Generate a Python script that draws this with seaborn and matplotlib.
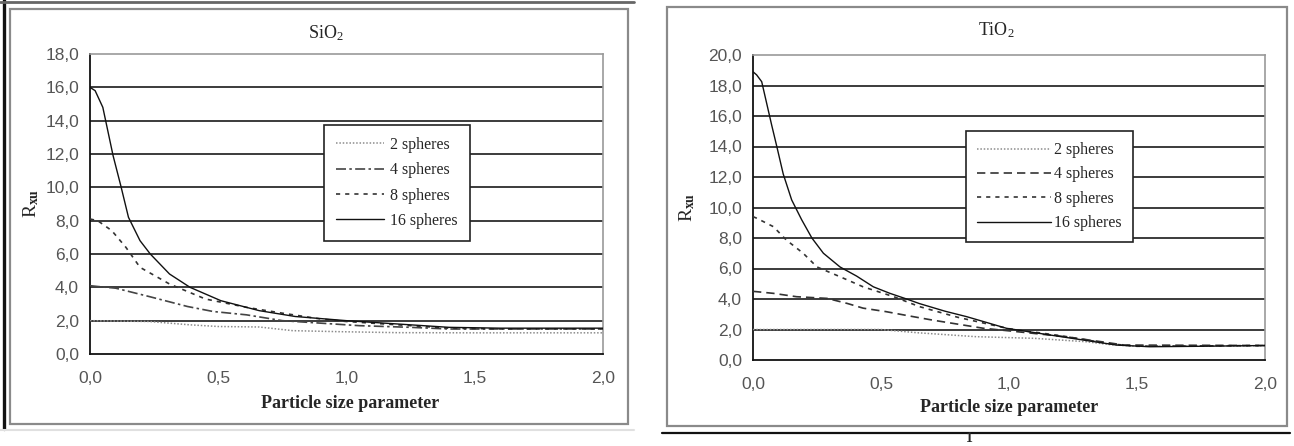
import matplotlib
matplotlib.use("Agg")
import matplotlib.pyplot as plt
import seaborn as sns
import pandas as pd
from matplotlib.ticker import FuncFormatter, MultipleLocator
from matplotlib.lines import Line2D
from matplotlib.patches import Rectangle

# ---------------- data ----------------
series_labels = ["2 spheres", "4 spheres", "8 spheres", "16 spheres"]

# SiO2
sio2_2_x = [0.0, 0.23, 0.39, 0.5, 0.66, 0.79, 0.97, 1.2, 1.5, 2.0]
sio2_2_y = [2.0, 1.95, 1.75, 1.65, 1.62, 1.4, 1.34, 1.28, 1.27, 1.27]
sio2_4_x = [0.0, 0.03, 0.10, 0.23, 0.38, 0.48, 0.61, 0.75, 0.9, 1.05, 1.25, 1.4, 1.6, 2.0]
sio2_4_y = [4.1, 4.05, 3.95, 3.45, 2.85, 2.55, 2.35, 2.0, 1.85, 1.7, 1.6, 1.5, 1.5, 1.5]
sio2_8_x = [0.0, 0.03, 0.085, 0.14, 0.195, 0.31, 0.45, 0.61, 0.75, 0.9, 1.0, 1.2, 1.4, 1.6, 2.0]
sio2_8_y = [8.1, 8.0, 7.4, 6.4, 5.2, 4.2, 3.3, 2.8, 2.45, 2.1, 1.95, 1.75, 1.55, 1.5, 1.5]
sio2_16_x = [0.0, 0.02, 0.05, 0.09, 0.12, 0.15, 0.195, 0.235, 0.31, 0.39, 0.51, 0.66, 0.8, 1.0, 1.2, 1.4, 1.6, 2.0]
sio2_16_y = [16.0, 15.8, 14.8, 11.9, 10.1, 8.2, 6.8, 6.0, 4.8, 4.0, 3.2, 2.6, 2.25, 2.0, 1.8, 1.6, 1.55, 1.55]

# TiO2
tio2_2_x = [0.0, 0.5, 0.64, 0.87, 1.1, 1.3, 1.4, 1.5, 2.0]
tio2_2_y = [2.0, 2.0, 1.79, 1.53, 1.42, 1.2, 1.0, 0.9, 0.93]
tio2_4_x = [0.0, 0.014, 0.08, 0.17, 0.29, 0.37, 0.43, 0.52, 0.61, 0.7, 0.9, 1.03, 1.22, 1.36, 1.45, 2.0]
tio2_4_y = [4.5, 4.48, 4.37, 4.15, 4.04, 3.7, 3.4, 3.17, 2.89, 2.62, 2.08, 1.86, 1.53, 1.2, 0.98, 0.95]
tio2_8_x = [0.0, 0.014, 0.08, 0.13, 0.196, 0.25, 0.34, 0.43, 0.55, 0.65, 0.8, 1.0, 1.2, 1.4, 1.5, 2.0]
tio2_8_y = [9.4, 9.3, 8.74, 7.87, 7.0, 6.1, 5.46, 4.8, 4.15, 3.5, 2.8, 2.05, 1.6, 1.05, 0.9, 0.95]
tio2_16_x = [0.0, 0.014, 0.034, 0.073, 0.093, 0.118, 0.151, 0.19, 0.23, 0.275, 0.34, 0.405, 0.47,
             0.535, 0.6, 0.65, 0.75, 0.835, 0.99, 1.16, 1.29, 1.42, 1.55, 1.75, 2.0]
tio2_16_y = [18.9, 18.7, 18.25, 15.4, 14.0, 12.2, 10.5, 9.2, 8.0, 7.0, 6.1, 5.5, 4.8,
             4.37, 4.0, 3.7, 3.2, 2.84, 2.08, 1.64, 1.31, 0.98, 0.87, 0.9, 0.95]

x_ticks = [0.0, 0.5, 1.0, 1.5, 2.0]
x_label = "Particle size parameter"

# ---------------- style ----------------
sns.set_style("white")
plt.rcParams["font.family"] = ["Liberation Serif", "DejaVu Serif"]
plt.rcParams["mathtext.fontset"] = "custom"
plt.rcParams["mathtext.rm"] = "Liberation Serif"
plt.rcParams["mathtext.it"] = "Liberation Serif:italic"
plt.rcParams["mathtext.bf"] = "Liberation Serif:bold"

W, H = 1294, 446
fig = plt.figure(figsize=(W / 100, H / 100), dpi=100)
fig.patch.set_facecolor("white")


def fx(px):
    return px / W


def fy(py):
    return 1 - py / H


def comma(v, pos):
    return f"{v:.1f}".replace(".", ",")


def style_axes(ax, ymax, ystep):
    ax.set_xlim(0, 2.0)
    ax.set_ylim(0, ymax)
    ax.set_xticks(x_ticks)
    ax.xaxis.set_minor_locator(MultipleLocator(0.1))
    ax.yaxis.set_major_locator(MultipleLocator(ystep))
    ax.yaxis.set_minor_locator(MultipleLocator(0.4))
    ax.xaxis.set_major_formatter(FuncFormatter(comma))
    ax.yaxis.set_major_formatter(FuncFormatter(comma))
    ax.tick_params(axis="both", which="major", labelsize=12.5, colors="#222222",
                   labelcolor="#555555", width=1.2)
    ax.tick_params(axis="x", which="major", direction="inout", length=8, pad=8)
    ax.tick_params(axis="x", which="minor", direction="in", length=3, width=1, colors="#222222")
    ax.tick_params(axis="y", which="major", direction="out", length=5, pad=3)
    ax.tick_params(axis="y", which="minor", direction="inout", length=4, width=1, colors="#444444")
    for lab in ax.get_xticklabels() + ax.get_yticklabels():
        lab.set_fontfamily("Liberation Sans")
        lab.set_color("#555555")
    ax.grid(False)
    for y in range(ystep, ymax, ystep):
        ax.axhline(y, color="#1a1a1a", lw=1.2, zorder=0)
    for side in ["top", "right"]:
        ax.spines[side].set_color("#999999")
        ax.spines[side].set_linewidth(1.2)
    for side in ["left", "bottom"]:
        ax.spines[side].set_color("#111111")
        ax.spines[side].set_linewidth(1.3)


def draw(ax, xs, ys, styles):
    for lab, x, y, (c, ls, lw) in zip(series_labels, xs, ys, styles):
        df = pd.DataFrame({"x": x, "y": y})
        sns.lineplot(data=df, x="x", y="y", ax=ax, color=c, linestyle=ls, lw=lw,
                     label=lab, legend=False, zorder=3)


# frames / decorative lines
fig.add_artist(Rectangle((fx(10), fy(424)), fx(618), 415 / H, transform=fig.transFigure,
                         fill=False, edgecolor="#8a8a8a", lw=1.6))
fig.add_artist(Rectangle((fx(667), fy(426)), fx(620), 419 / H, transform=fig.transFigure,
                         fill=False, edgecolor="#8a8a8a", lw=1.6))
fig.add_artist(Line2D([fx(4), fx(4)], [fy(0), fy(429)], transform=fig.transFigure,
                      color="#111111", lw=2.4))
fig.add_artist(Line2D([0, fx(634)], [fy(2), fy(2)], transform=fig.transFigure,
                      color="#666666", lw=2.0))
fig.add_artist(Line2D([0, fx(634)], [fy(430), fy(430)], transform=fig.transFigure,
                      color="#e0e0e0", lw=1.5))
fig.add_artist(Line2D([fx(662), fx(1290)], [fy(433), fy(433)], transform=fig.transFigure,
                      color="#111111", lw=1.6))
fig.text(fx(969), fy(445), "1", ha="center", va="bottom", fontsize=10, fontweight="bold",
         family="Liberation Serif")

# ---------------- left: SiO2 ----------------
ax1 = fig.add_axes([fx(90), fy(354), fx(513), 300 / H])
draw(ax1,
     [sio2_2_x, sio2_4_x, sio2_8_x, sio2_16_x],
     [sio2_2_y, sio2_4_y, sio2_8_y, sio2_16_y],
     [("#8c8c8c", (0, (1, 1.2)), 1.1),
      ("#444444", (0, (6, 2, 1.5, 2)), 1.2),
      ("#333333", (0, (2.5, 3)), 1.2),
      ("#111111", "-", 1.0)])
style_axes(ax1, 18, 2)
ax1.set_xlabel("")
ax1.set_ylabel("")
fig.text(fx(326), fy(33), r"SiO$_2$", ha="center", va="center", fontsize=13)
fig.text(fx(350), fy(403), x_label, ha="center", va="center", fontsize=13, fontweight="bold")
fig.text(fx(31), fy(203), r"R$_{\mathbf{xu}}$", ha="center", va="center", fontsize=14,
         rotation=90)
leg1 = ax1.legend(loc="upper left", bbox_to_anchor=(fx(324), fy(125)),
                  bbox_transform=fig.transFigure, borderaxespad=0, fontsize=11.5,
                  frameon=True, fancybox=False, edgecolor="#222222", framealpha=1,
                  handlelength=3.0, handletextpad=0.4, labelspacing=0.58,
                  borderpad=0.75)
leg1.get_frame().set_linewidth(1.2)

# ---------------- right: TiO2 ----------------
ax2 = fig.add_axes([fx(753), fy(360), fx(512), 305 / H])
draw(ax2,
     [tio2_2_x, tio2_4_x, tio2_8_x, tio2_16_x],
     [tio2_2_y, tio2_4_y, tio2_8_y, tio2_16_y],
     [("#8c8c8c", (0, (1, 1.2)), 1.1),
      ("#333333", (0, (5, 3)), 1.2),
      ("#333333", (0, (2.5, 3)), 1.2),
      ("#111111", "-", 1.0)])
style_axes(ax2, 20, 2)
ax2.set_xlabel("")
ax2.set_ylabel("")
fig.text(fx(996), fy(30), r"TiO$_2$", ha="center", va="center", fontsize=13)
fig.text(fx(1009), fy(407), x_label, ha="center", va="center", fontsize=13, fontweight="bold")
fig.text(fx(687), fy(207), r"R$_{\mathbf{xu}}$", ha="center", va="center", fontsize=14,
         rotation=90)
leg2 = ax2.legend(loc="upper left", bbox_to_anchor=(fx(966), fy(131)),
                  bbox_transform=fig.transFigure, borderaxespad=0, fontsize=11.5,
                  frameon=True, fancybox=False, edgecolor="#222222", framealpha=1,
                  handlelength=4.6, handletextpad=0.2, labelspacing=0.52,
                  borderpad=0.7)
leg2.get_frame().set_linewidth(1.2)

fig.savefig("out.png", dpi=100)
